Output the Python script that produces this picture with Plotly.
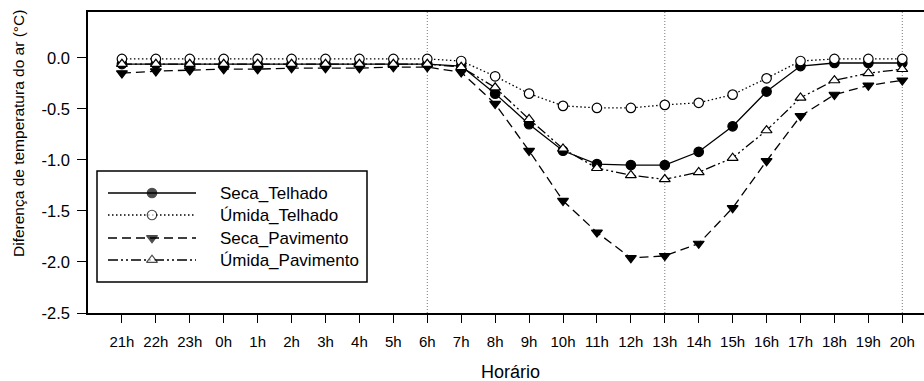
import plotly.graph_objects as go

# ---------------- data ----------------
hours = ["21h", "22h", "23h", "0h", "1h", "2h", "3h", "4h", "5h", "6h", "7h", "8h",
         "9h", "10h", "11h", "12h", "13h", "14h", "15h", "16h", "17h", "18h", "19h", "20h"]

seca_telhado = [-0.06, -0.06, -0.06, -0.06, -0.06, -0.06, -0.06, -0.06, -0.06, -0.06,
                -0.08, -0.35, -0.65, -0.91, -1.04, -1.05, -1.05, -0.92, -0.67, -0.33,
                -0.08, -0.05, -0.05, -0.05]
umida_telhado = [-0.01, -0.01, -0.01, -0.01, -0.01, -0.01, -0.01, -0.01, -0.01, -0.01,
                 -0.03, -0.18, -0.35, -0.47, -0.49, -0.49, -0.46, -0.44, -0.36, -0.20,
                 -0.03, -0.01, -0.01, -0.01]
seca_pavimento = [-0.15, -0.13, -0.12, -0.11, -0.11, -0.10, -0.10, -0.10, -0.09, -0.09,
                  -0.14, -0.45, -0.91, -1.40, -1.71, -1.96, -1.94, -1.82, -1.47, -1.01,
                  -0.57, -0.36, -0.27, -0.22]
umida_pavimento = [-0.06, -0.06, -0.06, -0.06, -0.06, -0.06, -0.06, -0.06, -0.06, -0.06,
                   -0.09, -0.29, -0.60, -0.89, -1.08, -1.15, -1.19, -1.12, -0.98, -0.71,
                   -0.39, -0.22, -0.15, -0.11]

series_names = ["Seca_Telhado", "Úmida_Telhado", "Seca_Pavimento", "Úmida_Pavimento"]

y_tick_values = [0.0, -0.5, -1.0, -1.5, -2.0, -2.5]
y_tick_labels = ["0.0", "-0.5", "-1.0", "-1.5", "-2.0", "-2.5"]
ref_hours = ["6h", "13h", "20h"]

# ---------------- styles ----------------
FONT = "Liberation Sans, Arial, sans-serif"
W, H = 924, 381
L, R, T, B = 88, 0, 12, 68
styles = [
    dict(dash="solid", symbol="circle", fill="black"),
    dict(dash="1.5px,2.5px", symbol="circle", fill="white"),
    dict(dash="9px,5px", symbol="triangle-down", fill="black"),
    dict(dash="10px,3px,2px,3px,2px,3px", symbol="triangle-up", fill="white"),
]
values = [seca_telhado, umida_telhado, seca_pavimento, umida_pavimento]
xs = list(range(len(hours)))

fig = go.Figure()
for name, vals, st in zip(series_names, values, styles):
    fig.add_trace(go.Scatter(
        x=xs, y=vals, name=name, mode="lines+markers",
        line=dict(color="black", width=1.3, dash=st["dash"]),
        marker=dict(symbol=st["symbol"], size=9.5, color=st["fill"],
                    line=dict(color="black", width=1.2)),
        showlegend=False,
    ))

# vertical dotted reference lines
for h in ref_hours:
    fig.add_shape(type="line", xref="x", yref="paper",
                  x0=hours.index(h), x1=hours.index(h), y0=0, y1=1,
                  line=dict(color="#777777", width=1, dash="1px,2px"), layer="below")

# ---------------- custom legend (pixel overlay axes) ----------------
def px_x(p):
    return (p - L) / (W - L - R)

def px_y(p):
    return (H - B - p) / (H - T - B)

fig.add_shape(type="rect", xref="paper", yref="paper",
              x0=px_x(97), x1=px_x(367), y0=px_y(282), y1=px_y(171),
              line=dict(color="black", width=1.5), fillcolor="white", layer="below")

rows = [193, 215, 238, 260]
for name, st, ry in zip(series_names, styles, rows):
    fig.add_trace(go.Scatter(
        x=[108, 152, 196], y=[ry, ry, ry], xaxis="x2", yaxis="y2",
        mode="lines+markers", hoverinfo="skip", showlegend=False,
        line=dict(color="black", width=1.3, dash=st["dash"]),
        marker=dict(symbol=st["symbol"], size=[0, 9.5, 0], color=st["fill"],
                    line=dict(color="black", width=[0, 1.2, 0])),
    ))
    fig.add_annotation(x=px_x(218), y=px_y(ry), xref="paper", yref="paper",
                       text=name, showarrow=False, xanchor="left", yanchor="middle",
                       font=dict(family=FONT, size=17, color="black"))

# axis titles
fig.add_annotation(x=px_x(18), y=px_y(134), xref="paper", yref="paper",
                   text="Diferença de temperatura do ar (°C)", textangle=-90,
                   showarrow=False, xanchor="center", yanchor="middle",
                   font=dict(family=FONT, size=15.5, color="black"))
fig.add_annotation(x=px_x(511), y=px_y(372), xref="paper", yref="paper",
                   text="Horário", showarrow=False, xanchor="center", yanchor="middle",
                   font=dict(family=FONT, size=18, color="black"))

fig.update_layout(
    width=W, height=H,
    margin=dict(l=L, r=R, t=T, b=B, pad=0),
    paper_bgcolor="white", plot_bgcolor="white",
    showlegend=False,
    xaxis=dict(range=[-1, 23.64], tickvals=xs, ticktext=hours,
               showgrid=False, zeroline=False, showline=True, linecolor="black",
               linewidth=1.5, mirror=True, ticks="outside", ticklen=8, tickwidth=1.3,
               tickcolor="black", ticklabelstandoff=6,
               tickfont=dict(family=FONT, size=15, color="black")),
    yaxis=dict(range=[-2.5, 0.45], tickvals=y_tick_values, ticktext=y_tick_labels,
               showgrid=False, zeroline=False, showline=True, linecolor="black",
               linewidth=1.5, mirror=False, ticks="outside", ticklen=9, tickwidth=1.3,
               tickcolor="black", ticklabelstandoff=4,
               tickfont=dict(family=FONT, size=16.5, color="black")),
    xaxis2=dict(range=[L, W - R], overlaying="x", visible=False, fixedrange=True),
    yaxis2=dict(range=[H - B, T], overlaying="y", visible=False, fixedrange=True),
)

fig.write_html("out.html")
